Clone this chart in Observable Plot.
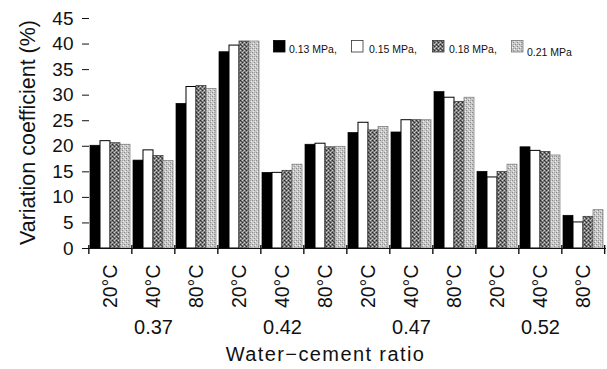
<!DOCTYPE html>
<html>
<head>
<meta charset="utf-8">
<script src="https://cdn.jsdelivr.net/npm/d3@7"></script>
<script src="https://cdn.jsdelivr.net/npm/@observablehq/plot@0.6"></script>
<style>
  body { margin: 0; background: #fff; }
  #wrap { position: relative; width: 607px; height: 369px; font-family: "Liberation Sans", Arial, sans-serif; }
  #legend { position: absolute; top: 0; left: 0; width: 607px; height: 60px; pointer-events: none; }
  .sw { position: absolute; }
  .lt { position: absolute; font-size: 10.5px; color: #111; white-space: nowrap; }
</style>
</head>
<body>
<svg width="0" height="0" style="position:absolute">
  <defs>
    <pattern id="p18" width="4" height="4" patternUnits="userSpaceOnUse">
      <rect width="4" height="4" fill="#7a7a7a"/>
      <rect x="0" y="0" width="1" height="1" fill="#2a2a2a"/>
      <rect x="2" y="2" width="1" height="1" fill="#2a2a2a"/>
      <rect x="2" y="0" width="1" height="1" fill="#d0d0d0"/>
      <rect x="0" y="2" width="1" height="1" fill="#d0d0d0"/>
      <rect x="1" y="1" width="1" height="1" fill="#4a4a4a"/>
      <rect x="3" y="3" width="1" height="1" fill="#a8a8a8"/>
    </pattern>
    <pattern id="p21" width="4" height="4" patternUnits="userSpaceOnUse">
      <rect width="4" height="4" fill="#c8c8c8"/>
      <rect x="0" y="0" width="1" height="1" fill="#8a8a8a"/>
      <rect x="2" y="2" width="1" height="1" fill="#8a8a8a"/>
      <rect x="1" y="3" width="1" height="1" fill="#efefef"/>
      <rect x="3" y="1" width="1" height="1" fill="#efefef"/>
      <rect x="2" y="0" width="1" height="1" fill="#a5a5a5"/>
    </pattern>
  </defs>
</svg>
<div id="wrap"></div>
<script>
// ---- data ----
const ratios = ["0.37", "0.42", "0.47", "0.52"];
const temps = ["20°C", "40°C", "80°C"];
const series = ["0.13 MPa", "0.15 MPa", "0.18 MPa", "0.21 MPa"];
const v013 = [20.1, 17.2, 28.3, 38.4, 14.8, 20.3, 22.6, 22.7, 30.6, 15.0, 19.8, 6.4];
const v015 = [21.0, 19.2, 31.6, 39.7, 14.8, 20.5, 24.6, 25.1, 29.5, 13.9, 19.1, 5.1];
const v018 = [20.6, 18.1, 31.8, 40.5, 15.2, 19.8, 23.1, 25.1, 28.7, 15.0, 18.9, 6.2];
const v021 = [20.3, 17.1, 31.2, 40.5, 16.4, 19.9, 23.8, 25.1, 29.5, 16.4, 18.2, 7.5];
const yTicks = [0, 5, 10, 15, 20, 25, 30, 35, 40, 45];
const xTitle = "Water\u2212cement ratio";
const yTitle = "Variation coefficient (%)";

// ---- build table ----
const groups = [];
ratios.forEach(r => temps.forEach(t => groups.push({key: r + "|" + t, ratio: r, temp: t})));
const seriesValues = [v013, v015, v018, v021];
const fills = ["#000", "#fff", "url(#p18)", "url(#p21)"];
const strokes = ["#000", "#000", "#333", "#777"];
const rows = [];
series.forEach((s, si) => groups.forEach((g, gi) => rows.push({series: s, si, key: g.key, value: seriesValues[si][gi]})));

// ---- layout ----
const W = 607, H = 369, mL = 86, mR = 1, mT = 18, mB = 121;
const padInner = 0.077;
const step = (W - mL - mR) / groups.length;
const bw = step * (1 - padInner);
const barW = bw / series.length;

const barMarks = series.map((s, si) =>
  Plot.barY(rows.filter(d => d.si === si), {
    x: "key", y: "value",
    fill: fills[si], stroke: strokes[si], strokeWidth: si === 1 ? 1 : 0.7,
    insetLeft: si * barW, insetRight: (series.length - 1 - si) * barW
  })
);

const middleGroups = groups.filter(g => g.temp === temps[1]);
const lastKey = groups[groups.length - 1].key;

const chart = Plot.plot({
  width: W, height: H,
  marginLeft: mL, marginRight: mR, marginTop: mT, marginBottom: mB,
  style: {fontFamily: "'Liberation Sans', Arial, sans-serif", color: "#111", background: "#fff"},
  x: {domain: groups.map(g => g.key), paddingInner: padInner, paddingOuter: padInner / 2, axis: null},
  y: {domain: [0, 45], axis: null},
  marks: [
    ...barMarks,
    Plot.ruleY([0], {stroke: "#111", strokeWidth: 1.2}),
    Plot.ruleX(groups, {x: "key", dx: -step / 2, y1: 0, y2: 0, insetTop: -3, insetBottom: -6, stroke: "#111", strokeWidth: 1.4}),
    Plot.ruleX([lastKey], {x: d => d, dx: step / 2 - 0.5, y1: 0, y2: 0, insetTop: -3, insetBottom: -6, stroke: "#111", strokeWidth: 1.4}),
    Plot.axisY({ticks: yTicks, tickSize: 4, tickPadding: 9, line: true, fontSize: 19, stroke: "#111", tickFormat: d => String(d), label: null}),
    Plot.axisY({ticks: yTicks, tickSize: -3, text: null, label: null, stroke: "#111"}),
    Plot.text(groups, {x: "key", y: 0, text: "temp", rotate: -90, textAnchor: "end", dy: 16, fontSize: 19.5, fill: "#111"}),
    Plot.text(middleGroups, {x: "key", y: 0, text: "ratio", dy: 79, fontSize: 20, fill: "#111"}),
    Plot.text([xTitle], {frameAnchor: "bottom", dx: -21, dy: 112, fontSize: 20, fill: "#111"}),
    Plot.text([yTitle], {frameAnchor: "left", textAnchor: "middle", rotate: -90, dx: -58, dy: -1, fontSize: 21.5, fill: "#111"})
  ]
});

// widen the x-axis title spacing like the reference
d3.select(chart).selectAll("text").filter(function () { return this.textContent === xTitle; })
  .attr("letter-spacing", "1.4px");

const wrap = document.getElementById("wrap");
wrap.appendChild(chart);

// ---- legend (overlay) ----
const legend = document.createElement("div");
legend.id = "legend";
const legendItems = [
  {label: series[0] + ",", sx: 273, tx: 289, ty: 43},
  {label: series[1] + ",", sx: 351, tx: 369, ty: 43},
  {label: series[2] + ",", sx: 432, tx: 449, ty: 43},
  {label: series[3], sx: 511, tx: 527, ty: 45.5}
];
legendItems.forEach((it, i) => {
  const sw = document.createElementNS("http://www.w3.org/2000/svg", "svg");
  sw.setAttribute("class", "sw");
  sw.setAttribute("width", 13); sw.setAttribute("height", 13);
  sw.style.left = it.sx + "px"; sw.style.top = "40px";
  const r = document.createElementNS("http://www.w3.org/2000/svg", "rect");
  r.setAttribute("x", 0.5); r.setAttribute("y", 0.5);
  r.setAttribute("width", 11.5); r.setAttribute("height", 11.5);
  r.setAttribute("fill", fills[i]);
  r.setAttribute("stroke", i === 1 ? "#333" : strokes[i]);
  r.setAttribute("stroke-width", 0.8);
  sw.appendChild(r);
  legend.appendChild(sw);
  const t = document.createElement("div");
  t.className = "lt";
  t.textContent = it.label;
  t.style.left = it.tx + "px"; t.style.top = it.ty + "px";
  legend.appendChild(t);
});
wrap.appendChild(legend);
</script>
</body>
</html>
